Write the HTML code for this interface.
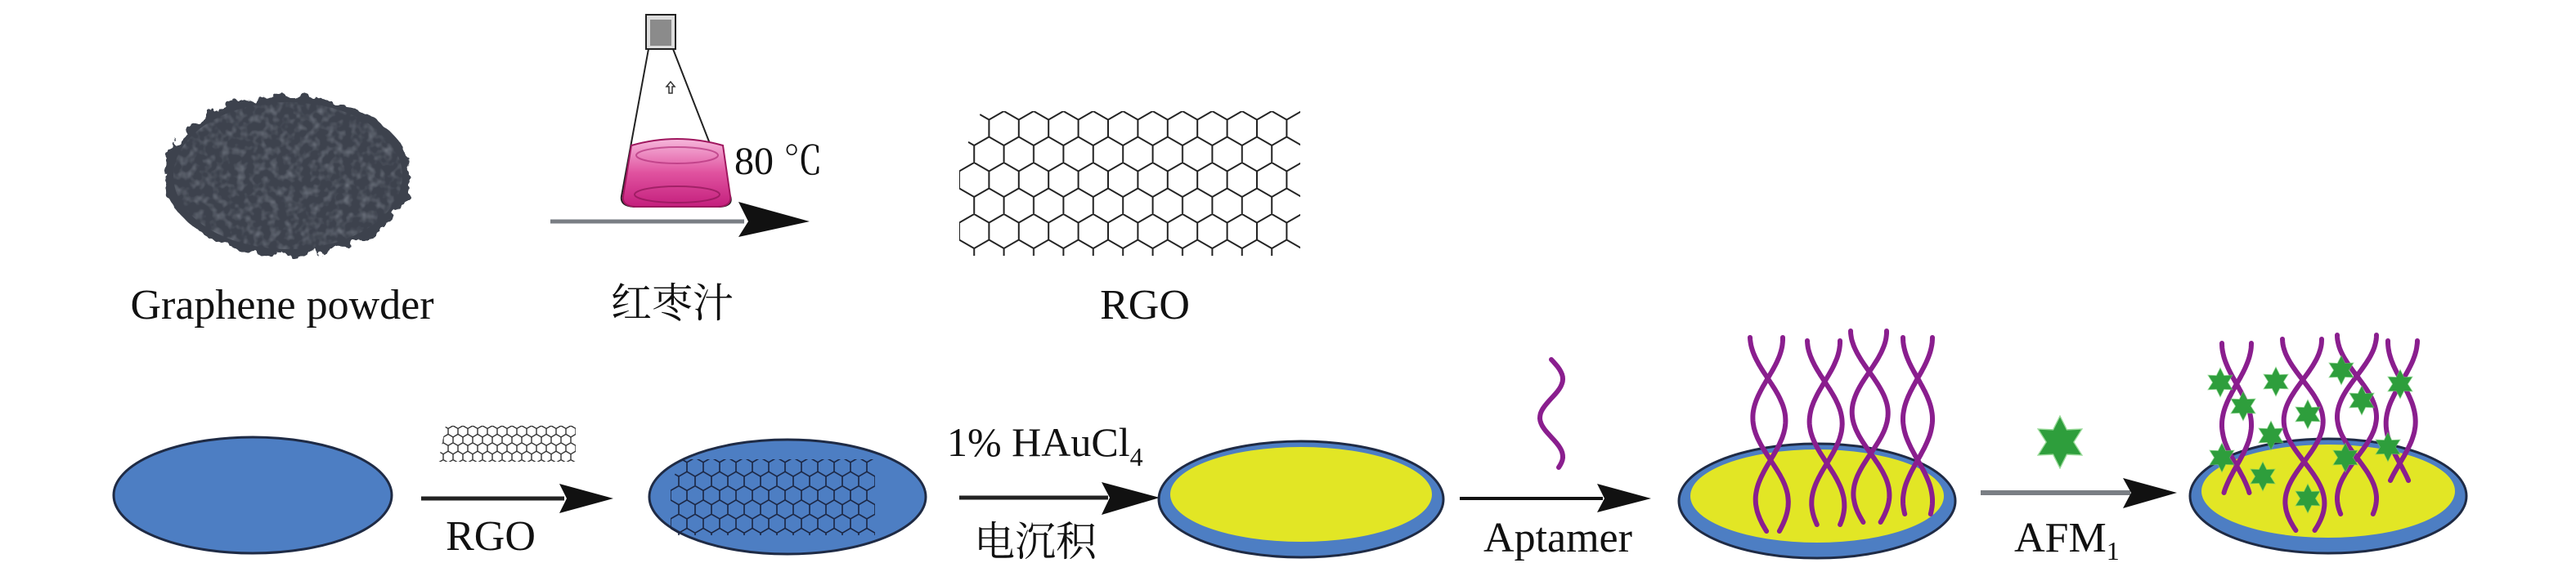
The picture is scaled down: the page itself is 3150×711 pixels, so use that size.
<!DOCTYPE html>
<html><head><meta charset="utf-8">
<style>
html,body{margin:0;padding:0;background:#fff;}
svg{display:block;}
text{font-family:"Liberation Serif","Noto Serif CJK SC",serif;fill:#111;}
</style></head>
<body>
<svg id="s" width="3150" height="711" viewBox="0 0 3150 711" xmlns="http://www.w3.org/2000/svg">
<defs>
  <pattern id="hex" width="36.4" height="63" patternUnits="userSpaceOnUse" x="1173" y="136">
    <path d="M0,10.5 L18.2,0 L36.4,10.5 M0,10.5 L0,31.5 L18.2,42 L36.4,31.5 M36.4,10.5 L36.4,31.5 M18.2,42 L18.2,63" fill="none" stroke="#222" stroke-width="2"/>
  </pattern>
  <pattern id="hex2" width="20" height="34.6" patternUnits="userSpaceOnUse" x="820" y="560">
    <path d="M0,5.77 L10,0 L20,5.77 M0,5.77 L0,17.3 L10,23.1 L20,17.3 M20,5.77 L20,17.3 M10,23.1 L10,34.6" fill="none" stroke="#1a2440" stroke-width="1.6"/>
  </pattern>
  <pattern id="hex3" width="12" height="20.8" patternUnits="userSpaceOnUse" x="536" y="521">
    <path d="M0,3.46 L6,0 L12,3.46 M0,3.46 L0,10.4 L6,13.9 L12,10.4 M12,3.46 L12,10.4 M6,13.9 L6,20.8" fill="none" stroke="#222" stroke-width="1.3"/>
  </pattern>
  <filter id="rough" x="-10%" y="-10%" width="120%" height="120%">
    <feTurbulence type="fractalNoise" baseFrequency="0.06" numOctaves="3" seed="4" result="n"/>
    <feDisplacementMap in="SourceGraphic" in2="n" scale="22"/>
  </filter>
  <filter id="tex">
    <feTurbulence type="fractalNoise" baseFrequency="0.1" numOctaves="2" seed="7" result="n"/>
    <feColorMatrix in="n" type="matrix" values="0 0 0 0 0.18  0 0 0 0 0.2  0 0 0 0 0.24  0 0 0 -1.6 0.9" result="m"/>
    <feComposite in="m" in2="SourceGraphic" operator="in"/>
  </filter>
  <linearGradient id="pink" x1="0" y1="0" x2="0" y2="1">
    <stop offset="0" stop-color="#f6b8dc"/>
    <stop offset="0.5" stop-color="#e0529f"/>
    <stop offset="1" stop-color="#c41f7d"/>
  </linearGradient>
  <symbol id="star" viewBox="-20 -20 40 40">
    <polygon points="0,-19 5,-9 16,-9.5 10,0 16,9.5 5,9 0,19 -5,9 -16,9.5 -10,0 -16,-9.5 -5,-9" fill="#6cc96c" opacity="0.7" transform="scale(1.1)"/>
    <polygon points="0,-19 5,-9 16,-9.5 10,0 16,9.5 5,9 0,19 -5,9 -16,9.5 -10,0 -16,-9.5 -5,-9" fill="#2e9e3c"/>
  </symbol>
</defs>

<!-- Graphene powder -->
<g filter="url(#rough)">
  <ellipse cx="352" cy="215" rx="150" ry="98" fill="#3d434e"/>
</g>
<g filter="url(#tex)"><ellipse cx="352" cy="215" rx="140" ry="90" fill="#000"/></g>
<text x="345" y="390" font-size="52" text-anchor="middle">Graphene powder</text>

<!-- Flask -->
<rect x="790" y="18" width="36" height="42" fill="#ddd" stroke="#222" stroke-width="2"/>
<rect x="795" y="24" width="26" height="32" fill="#555" opacity="0.6"/>
<path d="M793,60 L760,240 Q758,252 775,253 L880,253 Q897,252 893,240 L823,60" fill="none" stroke="#222" stroke-width="2"/>
<path d="M772,178 Q828,162 884,178 L893,240 Q895,252 878,253 L777,253 Q760,252 762,240 Z" fill="url(#pink)" stroke="#a0175f" stroke-width="2"/>
<ellipse cx="828" cy="190" rx="50" ry="10" fill="none" stroke="#b2307a" stroke-width="2" opacity="0.7"/>
<ellipse cx="828" cy="238" rx="52" ry="10" fill="none" stroke="#8d1555" stroke-width="2" opacity="0.7"/>
<path d="M820,100 l-5,6 h3 v8 h4 v-8 h3 z" fill="none" stroke="#333" stroke-width="1.5"/>
<text x="898" y="213" font-size="48">80 ℃</text>
<line x1="673" y1="271" x2="910" y2="271" stroke="#7a7e84" stroke-width="5"/>
<polygon points="903,247 990,271 903,290 915,271" fill="#111"/>
<text x="822" y="388" font-size="50" text-anchor="middle">红枣汁</text>

<!-- RGO lattice -->
<polygon points="1200,136 1590,136 1590,313 1173,313 1173,200" fill="url(#hex)"/>
<text x="1400" y="390" font-size="52" text-anchor="middle">RGO</text>

<!-- Bottom row -->
<ellipse cx="309" cy="606" rx="170" ry="71" fill="#4d7ec3" stroke="#1f2b45" stroke-width="3"/>
<polygon points="545,521 704,521 704,565 536,565" fill="url(#hex3)"/>
<line x1="515" y1="610" x2="690" y2="610" stroke="#222" stroke-width="5"/>
<polygon points="684,592 750,610 684,628 693,610" fill="#111"/>
<text x="600" y="673" font-size="52" text-anchor="middle">RGO</text>

<ellipse cx="963" cy="608" rx="169" ry="70" fill="#4d7ec3" stroke="#1f2b45" stroke-width="3"/>
<polygon points="835,562 1070,562 1070,655 820,655 820,590" fill="url(#hex2)"/>
<text x="1158" y="558" font-size="50">1% HAuCl<tspan font-size="32" dy="12">4</tspan></text>
<line x1="1173" y1="609" x2="1355" y2="609" stroke="#222" stroke-width="5"/>
<polygon points="1347,590 1418,609 1347,630 1357,609" fill="#111"/>
<text x="1266" y="680" font-size="50" text-anchor="middle">电沉积</text>

<ellipse cx="1591" cy="611" rx="174" ry="71" fill="#4d7ec3" stroke="#1f2b45" stroke-width="3"/>
<ellipse cx="1591" cy="605" rx="160" ry="58" fill="#e2e625"/>
<line x1="1785" y1="610" x2="1960" y2="610" stroke="#111" stroke-width="4"/>
<polygon points="1953,592 2019,610 1953,627 1962,610" fill="#111"/>
<text x="1905" y="675" font-size="52" text-anchor="middle">Aptamer</text>

<ellipse cx="2222" cy="613" rx="169" ry="70" fill="#4d7ec3" stroke="#1f2b45" stroke-width="3"/>
<ellipse cx="2222" cy="607" rx="155" ry="57" fill="#e2e625"/>
<line x1="2422" y1="603" x2="2605" y2="603" stroke="#7a7e84" stroke-width="6"/>
<polygon points="2596,585 2662,603 2596,622 2606,603" fill="#111"/>
<use href="#star" x="2487" y="508" width="64" height="66"/>
<text x="2463" y="675" font-size="52">AFM<tspan font-size="32" dy="10">1</tspan></text>

<ellipse cx="2847" cy="607" rx="169" ry="70" fill="#4d7ec3" stroke="#1f2b45" stroke-width="3"/>
<ellipse cx="2847" cy="601" rx="155" ry="57" fill="#e2e625"/>

<g id="dna" fill="none" stroke="#8a1e8e" stroke-width="6" stroke-linecap="round"></g>
<g id="stars"></g>
</svg>
<script>
const NS="http://www.w3.org/2000/svg";
const dna=document.getElementById('dna');
function wave(cx,top,bot,amp,period,phase,drift){
  let d="";
  for(let y=top;y<=bot;y+=3){
    const x=cx+amp*Math.sin((y-top)/period*2*Math.PI+phase)+drift*(y-top)/(bot-top);
    d+=(y===top?"M":"L")+x.toFixed(1)+","+y;
  }
  const p=document.createElementNS(NS,"path");p.setAttribute("d",d);dna.appendChild(p);
}
function helix(cx,top,bot,amp,drift){
  wave(cx,top,bot,amp,200,Math.PI/2,drift);
  wave(cx,top,bot,amp,200,-Math.PI/2,drift);
}
wave(1897,440,573,14,95,0,0);
[[2160,413,650,20,8],[2230,417,643,20,6],[2285,405,640,22,4],[2345,413,630,18,0]].forEach(a=>helix(...a));
[[2735,420,603,18,0],[2815,415,650,24,4],[2882,410,630,24,0],[2938,417,590,18,-4]].forEach(a=>helix(...a));
const st=document.getElementById('stars');
[[2715,468],[2783,467],[2863,453],[2935,470],[2743,497],[2822,507],[2888,490],[2777,533],[2717,560],[2920,547],[2868,560],[2767,583],[2822,610]].forEach(([x,y])=>{
  const u=document.createElementNS(NS,"use");
  u.setAttribute("href","#star");u.setAttribute("x",x-18);u.setAttribute("y",y-19);
  u.setAttribute("width",36);u.setAttribute("height",38);st.appendChild(u);
});
</script>
</body></html>
